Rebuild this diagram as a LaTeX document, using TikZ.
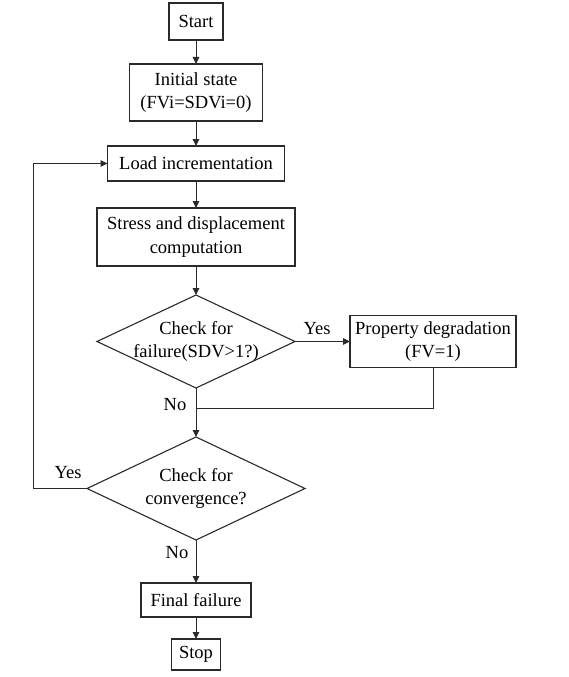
\documentclass[tikz,border=0pt]{standalone}
\usepackage{fontspec}
\setmainfont{Liberation Serif}
\usepackage{tikz}
\usetikzlibrary{arrows.meta,positioning,shapes.geometric}
\definecolor{fcline}{HTML}{2A2A2A}

\begin{document}
\begin{tikzpicture}[
  x=1pt,y=1pt,
  font=\fontsize{18.5}{23.5}\selectfont,
  node distance=0pt,
  box/.style={draw=fcline,line width=1.1pt,align=center,inner sep=2pt,outer sep=0pt},
  dia/.style={draw=fcline,line width=1.1pt,diamond,inner sep=0pt,outer sep=0pt},
  txt/.style={align=center,inner sep=0pt},
  lbl/.style={inner sep=1pt},
  ar/.style={-{Triangle[length=7pt,width=6.5pt]},fcline,line width=1pt},
  ln/.style={fcline,line width=1pt}
]
\useasboundingbox (0,0) rectangle (568,-677);

\node[box,minimum width=54pt,minimum height=37pt] (start) at (196,-21.5) {Start};
\node[box,below=24pt of start,minimum width=133pt,minimum height=57pt] (init)
  {Initial state\\(FVi=SDVi=0)};
\node[box,below=25pt of init,minimum width=177pt,minimum height=35pt] (load)
  {Load incrementation};
\node[box,below=27pt of load,minimum width=198pt,minimum height=58pt] (stress)
  {Stress and displacement\\computation};
\node[dia,below=29pt of stress,minimum width=198pt,minimum height=93pt] (chk1) {};
\node[txt] (chk1t) at (chk1) {Check for\\failure(SDV>1?)};
\node[box,right=55pt of chk1,minimum width=166pt,minimum height=52pt] (prop)
  {Property degradation\\(FV=1)};
\node[dia,below=49pt of chk1,minimum width=218pt,minimum height=103pt] (chk2) {};
\node[txt] (chk2t) at (chk2) {Check for\\convergence?};
\node[box,below=43pt of chk2,minimum width=110pt,minimum height=34pt] (fin)
  {Final failure};
\node[box,below=22pt of fin,minimum width=49pt,minimum height=31pt] (stop) {Stop};

% branch labels
\node[lbl] (yes1) at (317,-329) {Yes};
\node[lbl] (no1) at (175,-405) {No};
\node[lbl] (yes2) at (68,-473) {Yes};
\node[lbl] (no2) at (177,-553) {No};

\coordinate (jn) at (196,-408);
\coordinate (lb) at (33,0);

\draw[ar] (start) -- (init);
\draw[ar] (init) -- (load);
\draw[ar] (load) -- (stress);
\draw[ar] (stress) -- (chk1);
\draw[ar] (chk1.east) -- (prop.west);
\draw[ln] (prop.south) |- (jn);
\draw[ar] (chk1.south) -- (chk2.north);
\draw[ar] (chk2.west) -- (chk2.west -| lb) |- (load.west);
\draw[ar] (chk2.south) -- (fin.north);
\draw[ar] (fin) -- (stop);
\end{tikzpicture}
\end{document}
